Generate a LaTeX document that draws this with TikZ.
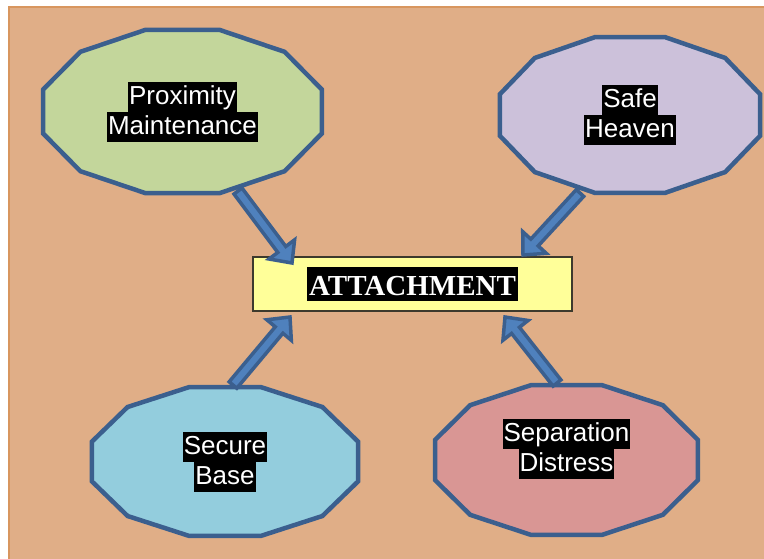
\documentclass[tikz,border=0pt]{standalone}
\usepackage{fontspec}
\setmainfont{Liberation Sans}
\newfontfamily\attfont{Liberation Serif}
\usepackage{xcolor}
\usetikzlibrary{
    arrows.meta,
    positioning,
    calc
}

\definecolor{bgtan}{HTML}{E0AE87}
\definecolor{bgedge}{HTML}{D8965F}
\definecolor{edgeblue}{HTML}{3B5F8E}
\definecolor{arrowblue}{HTML}{4F81BD}
\definecolor{proxgreen}{HTML}{C3D69B}
\definecolor{safelilac}{HTML}{CCC1DA}
\definecolor{basecyan}{HTML}{93CDDD}
\definecolor{seprose}{HTML}{D99694}
\definecolor{attyellow}{HTML}{FFFF99}

\newcommand\hl[1]{{\setlength\fboxsep{0pt}\colorbox{black}{\rule[-7.5pt]{0pt}{30pt}\hspace{1pt}#1\hspace{1pt}}}}
\newcommand\dodeca[4]{\draw[polyline, fill=#4] (#1) +(15:#2 and #3) \foreach \t in {45,75,...,345}{ -- +(\t:#2 and #3)} -- cycle;}
\newcommand\blockarrow[2]{%
    \coordinate (ah) at ($(#2)!17pt!(#1)$);
    \draw[arrowbody] ($(#1)!5pt!90:(#2)$) -- ($(ah)!5pt!90:(#2)$) -- ($(ah)!16pt!90:(#2)$) -- (#2)
        -- ($(ah)!16pt!-90:(#2)$) -- ($(ah)!5pt!-90:(#2)$) -- ($(#1)!5pt!-90:(#2)$) -- cycle;}

\tikzset{
    polyline/.style = {draw=edgeblue, line width=4.5pt, line join=miter},
    arrowbody/.style = {draw=edgeblue, fill=arrowblue, line width=3.5pt, line join=miter},
    lbl/.style = {text=white, align=center, inner sep=0pt, font=\fontsize{26}{30}\selectfont},
    attbox/.style = {draw=black!75!olive, fill=attyellow, line width=1.5pt, minimum width=319pt, minimum height=54pt, inner sep=0pt}
}

\begin{document}
\begin{tikzpicture}[x=1pt, y=-1pt]
    \useasboundingbox (0,0) rectangle (764,558);
    \draw[draw=bgedge, fill=bgtan, line width=2pt] (9,7) rectangle (775,570);

    \coordinate (proxc) at (182.5,111.5);
    \coordinate (safec) at (630,115);
    \coordinate (basec) at (225,461.5);
    \coordinate (sepc) at (566.5,460);

    \dodeca{proxc}{144.4}{84.4}{proxgreen}
    \dodeca{safec}{134.6}{80.7}{safelilac}
    \dodeca{basec}{137.7}{77.1}{basecyan}
    \dodeca{sepc}{136.1}{77.6}{seprose}

    \node[lbl] (prox) at (proxc) {\hl{Proximity}\\\hl{Maintenance}};
    \node[lbl] (safe) at (safec) {\hl{Safe}\\\hl{Heaven}};
    \node[lbl] (base) at (basec) {\hl{Secure}\\\hl{Base}};
    \node[lbl] (sep) at ($(sepc)+(0,-11.5)$) {\hl{Separation}\\\hl{Distress}};

    \node[attbox] (att) at (412.5,284) {{\setlength\fboxsep{0pt}\colorbox{black}{\rule[-6pt]{0pt}{34pt}\hspace{2pt}\textcolor{white}{\attfont\bfseries\fontsize{29}{34}\selectfont ATTACHMENT}\hspace{2pt}}}};

    \coordinate (proxtail) at (238,191);
    \coordinate (safetail) at (580,193);
    \coordinate (basetail) at (233,385);
    \coordinate (septail) at (557,383);
    \coordinate (proxtip) at (292,263);
    \coordinate (safetip) at (523,255);
    \coordinate (basetip) at (290,317);
    \coordinate (septip) at (505,317);

    \blockarrow{proxtail}{proxtip}
    \blockarrow{safetail}{safetip}
    \blockarrow{basetail}{basetip}
    \blockarrow{septail}{septip}
\end{tikzpicture}
\end{document}
